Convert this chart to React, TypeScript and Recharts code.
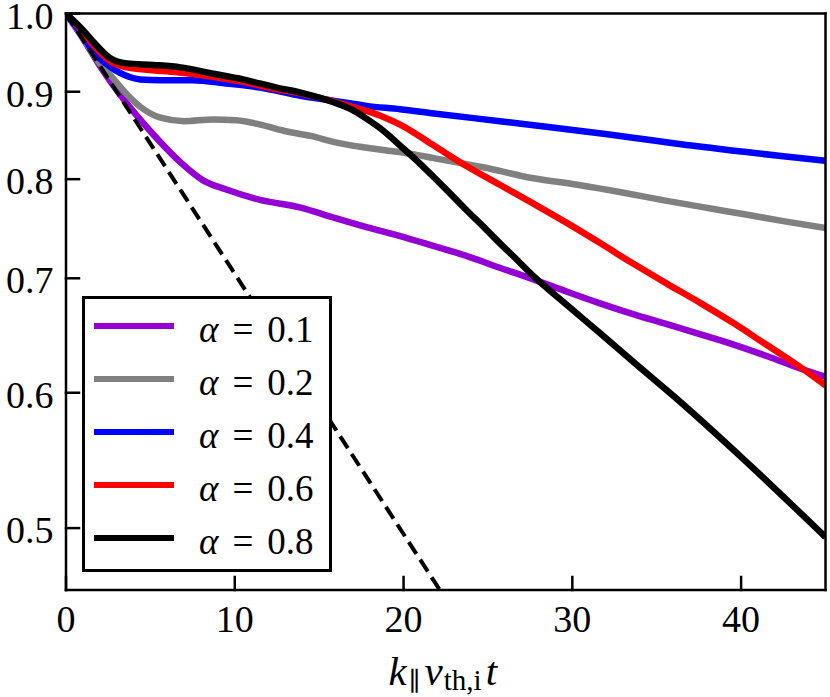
import React from 'react';
import { LineChart, Line, XAxis, YAxis, Legend, Label } from 'recharts';

const xTicks = [0, 10, 20, 30, 40];
const yTicks = [0.5, 0.6, 0.7, 0.8, 0.9, 1.0];

// [t, fraction]
const alpha01 = [
  [0, 1.0], [1, 0.967], [2, 0.932], [3.6, 0.886], [5.2, 0.849], [6.8, 0.818], [8.1, 0.799],
  [9.5, 0.789], [11.5, 0.778], [13.9, 0.770], [15.8, 0.760], [17.8, 0.750], [19.8, 0.741],
  [21.8, 0.731], [23.8, 0.721], [25.7, 0.710], [27.7, 0.699], [29.6, 0.688], [31.6, 0.677],
  [33.6, 0.667], [35.6, 0.658], [37.6, 0.649], [39.6, 0.640], [41.6, 0.630], [43.3, 0.621],
  [45, 0.613],
];

const alpha02 = [
  [0, 1.0], [1, 0.968], [2, 0.935], [2.6, 0.921], [3.6, 0.897], [4.4, 0.882], [5.6, 0.869],
  [7.0, 0.865], [8.7, 0.867], [10.1, 0.866], [11.5, 0.861], [13.1, 0.853], [14.5, 0.848],
  [15.9, 0.841], [18.8, 0.832], [20.4, 0.828], [21.8, 0.823], [24.7, 0.813], [27.7, 0.801],
  [30.3, 0.794], [33.2, 0.785], [35.6, 0.777], [38.2, 0.769], [40.2, 0.763], [42.5, 0.756],
  [45, 0.749],
];

const alpha04 = [
  [0, 1.0], [1, 0.970], [1.6, 0.950], [2.6, 0.931], [3.2, 0.923], [4.4, 0.915], [5.6, 0.914],
  [7.5, 0.914], [9.5, 0.910], [11.5, 0.905], [13.9, 0.895], [15.9, 0.889], [17.8, 0.883],
  [19.8, 0.879], [21.8, 0.874], [25.7, 0.865], [28.7, 0.858], [31.6, 0.851], [33.6, 0.846],
  [36.2, 0.839], [40.2, 0.830], [42.5, 0.825], [45, 0.820],
];

const alpha06 = [
  [0, 1.0], [1, 0.975], [1.6, 0.959], [2.6, 0.938], [3.6, 0.930], [4.8, 0.927], [6.6, 0.924],
  [8.5, 0.919], [10.5, 0.912], [12.5, 0.903], [13.9, 0.898], [15.9, 0.888], [17.8, 0.877],
  [18.8, 0.870], [19.8, 0.861], [21.8, 0.837], [23.75, 0.814], [25.7, 0.794], [27.7, 0.774],
  [29.7, 0.754], [31.65, 0.734], [33.6, 0.714], [35.6, 0.695], [37.6, 0.677], [39.55, 0.659],
  [41.3, 0.642], [43.1, 0.625], [45, 0.606],
];

const alpha08 = [
  [0, 1.0], [1, 0.978], [1.6, 0.963], [2.6, 0.942], [3.6, 0.935], [5.2, 0.933], [6.8, 0.930],
  [8.5, 0.923], [10.5, 0.915], [12.5, 0.905], [13.9, 0.899], [15.0, 0.893], [15.9, 0.887],
  [16.9, 0.879], [17.8, 0.868], [18.8, 0.854], [19.8, 0.837], [20.8, 0.820], [21.8, 0.802],
  [22.8, 0.784], [23.75, 0.767], [24.7, 0.751], [25.7, 0.734], [26.7, 0.718], [27.7, 0.702],
  [29.7, 0.675], [31.65, 0.650], [33.9, 0.622], [36.2, 0.595], [40.2, 0.548], [45, 0.494],
];

// dashed reference decay
const dampingRef = [[0, 1.0], [22.15, 0.46]];

const toPoints = (pairs: number[][]) => pairs.map(([t, v]) => ({ t, v }));

const series = [
  { value: '0.1', color: '#9400d3', data: toPoints(alpha01) },
  { value: '0.2', color: '#808080', data: toPoints(alpha02) },
  { value: '0.4', color: '#0000ff', data: toPoints(alpha04) },
  { value: '0.6', color: '#ff0000', data: toPoints(alpha06) },
  { value: '0.8', color: '#000000', data: toPoints(alpha08) },
];

const FONT = '"Liberation Serif", "Times New Roman", Times, "DejaVu Serif", serif';
const frame = { stroke: '#000', strokeWidth: 2.5, strokeLinecap: 'square' as const };

const YTick = (props: any) => (
  <text x={props.x} y={props.y + 15} textAnchor="end" fontFamily={FONT} fontSize={38} fill="#000">
    {Number(props.payload.value).toFixed(1)}
  </text>
);

const XTick = (props: any) => (
  <text x={props.x} y={props.y + 28.5} textAnchor="middle" fontFamily={FONT} fontSize={38} fill="#000">
    {String(props.payload.value)}
  </text>
);

const AlphaLegend = () => (
  <div
    style={{
      width: 250,
      height: 276,
      boxSizing: 'border-box',
      border: '3px solid #000',
      background: '#fff',
      paddingTop: 0.5,
      fontFamily: FONT,
      fontSize: 37,
      color: '#000',
    }}
  >
    {series.map((s) => (
      <div key={s.value} style={{ display: 'flex', alignItems: 'center', height: 53 }}>
        <div style={{ marginLeft: 9, width: 80, height: 6.5, background: s.color }} />
        <div style={{ marginLeft: 25, position: 'relative', top: 3, whiteSpace: 'nowrap' }}>
          <span style={{ fontStyle: 'italic' }}>α</span>
          <span style={{ margin: '0 14px' }}>=</span>
          <span>{s.value}</span>
        </div>
      </div>
    ))}
  </div>
);

const renderXTitle = (props: any) => {
  const vb = props.viewBox || { x: 66, y: 590, width: 760, height: 100 };
  const cx = vb.x + vb.width / 2 - 3;
  const by = vb.y + 95;
  return (
    <text x={cx} y={by} textAnchor="middle" fontFamily={FONT} fontSize={41} fill="#000">
      <tspan fontStyle="italic">k</tspan>
      <tspan fontSize={26} dy={5} dx={2}>∥</tspan>
      <tspan fontStyle="italic" dy={-5} dx={4}>v</tspan>
      <tspan fontSize={29} dy={5} dx={1}>th,i</tspan>
      <tspan fontStyle="italic" dy={-5} dx={4}>t</tspan>
    </text>
  );
};

export default function App() {
  return (
    <div style={{ position: 'absolute', left: 0, top: 0, background: '#fff', fontFamily: FONT }}>
      <LineChart width={830} height={697} margin={{ top: 12.5, right: 3.5, bottom: 7, left: 6 }}>
        <XAxis
          xAxisId={0}
          dataKey="t"
          type="number"
          domain={[0, 45]}
          allowDataOverflow
          ticks={xTicks}
          tick={<XTick />}
          tickSize={-13}
          tickMargin={26}
          tickLine={frame}
          axisLine={frame}
          height={100}
          interval={0}
        >
          <Label content={renderXTitle} />
        </XAxis>
        <XAxis
          xAxisId="top"
          orientation="top"
          dataKey="t"
          type="number"
          domain={[0, 45]}
          allowDataOverflow
          ticks={xTicks}
          tick={false}
          tickSize={-13}
          tickLine={frame}
          axisLine={frame}
          height={1}
        />
        <YAxis
          yAxisId={0}
          scale="log"
          type="number"
          domain={[0.46, 1.0]}
          allowDataOverflow
          ticks={yTicks}
          tick={<YTick />}
          tickSize={-13}
          tickMargin={25.5}
          tickLine={frame}
          axisLine={frame}
          width={60}
          interval={0}
        />
        <YAxis
          yAxisId="right"
          orientation="right"
          scale="log"
          type="number"
          domain={[0.46, 1.0]}
          allowDataOverflow
          ticks={yTicks}
          tick={false}
          tickSize={-13}
          tickLine={frame}
          axisLine={frame}
          width={1}
        />
        {series.map((s) => (
          <Line
            key={s.value}
            data={s.data}
            dataKey="v"
            type="monotone"
            stroke={s.color}
            strokeWidth={6.5}
            strokeLinejoin="round"
            dot={false}
            activeDot={false}
            isAnimationActive={false}
          />
        ))}
        <Line
          data={toPoints(dampingRef)}
          dataKey="v"
          type="linear"
          stroke="#000"
          strokeWidth={4}
          strokeDasharray="14 7"
          dot={false}
          activeDot={false}
          isAnimationActive={false}
        />
        <Legend
          layout="vertical"
          align="center"
          verticalAlign="middle"
          content={() => <AlphaLegend />}
          wrapperStyle={{ left: 82, top: 296, width: 250, height: 276 }}
        />
      </LineChart>
    </div>
  );
}
